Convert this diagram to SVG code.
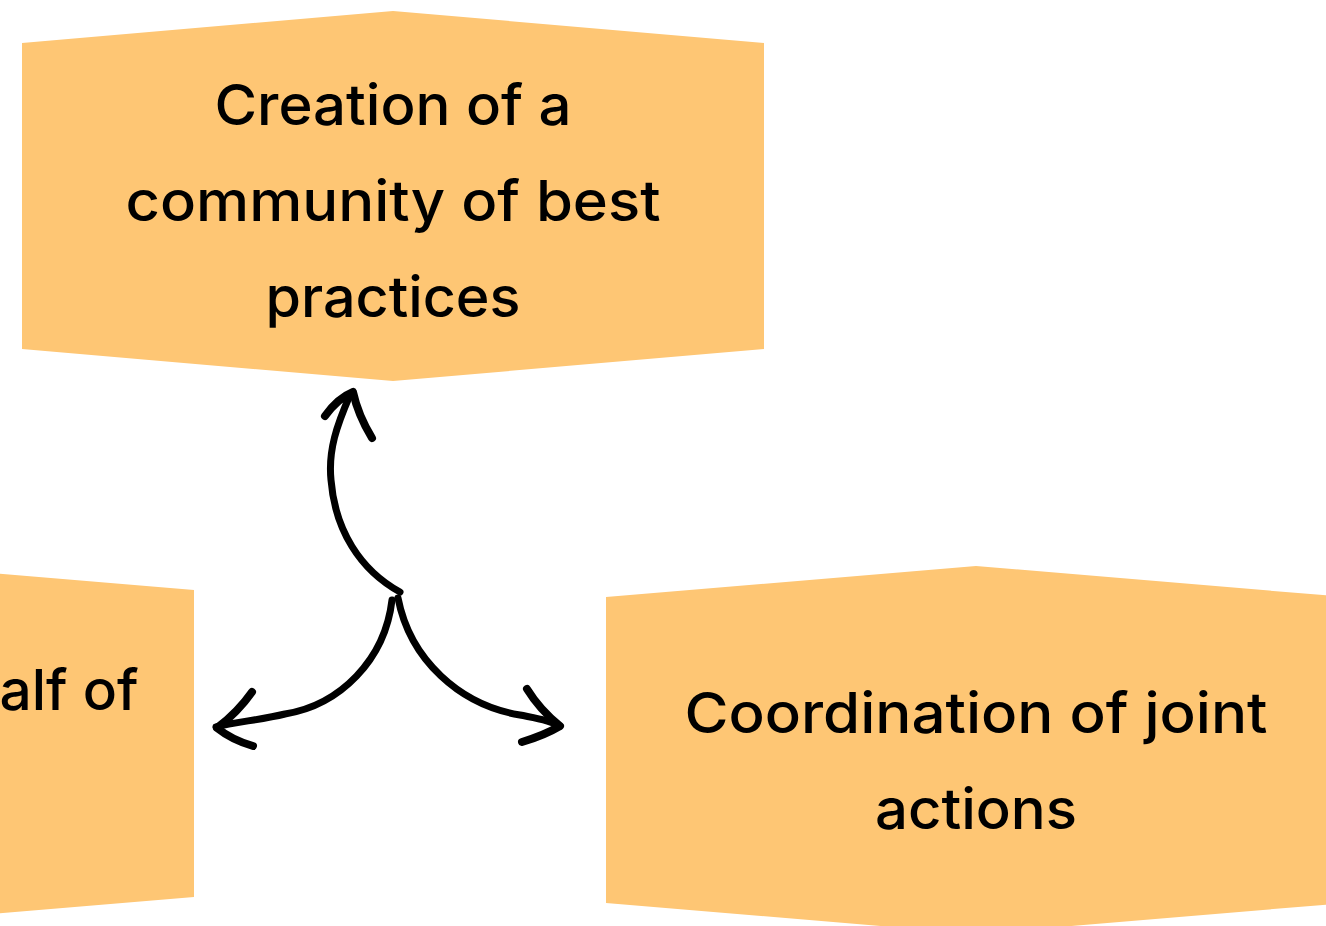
<svg xmlns="http://www.w3.org/2000/svg" width="1326" height="926" viewBox="0 0 1326 926">
<style>
.box{fill:#FEC674;}
.lbl{font-family:Inter,"Noto Sans","DejaVu Sans",sans-serif;font-size:56px;font-weight:500;fill:#000;text-anchor:middle;}
.arr{fill:none;stroke:#000;stroke-width:7;stroke-linecap:round;stroke-linejoin:round;}
.barb{fill:none;stroke:#000;stroke-width:8;stroke-linecap:round;stroke-linejoin:round;}
</style>
<rect width="1326" height="926" fill="#fff"/>
<g id="node-top">
<polygon class="box" points="22,43 393,11 764,43 764,349 393,381 22,349"/>
<text class="lbl" x="393" y="125" textLength="357" lengthAdjust="spacingAndGlyphs">Creation of a</text>
<text class="lbl" x="393" y="221" textLength="535" lengthAdjust="spacingAndGlyphs">community of best</text>
<text class="lbl" x="393" y="317" textLength="255" lengthAdjust="spacingAndGlyphs">practices</text>
</g>
<g id="node-left">
<polygon class="box" points="-546,590 -176,559 194,590 194,897 -176,928 -546,897"/>
<text class="lbl" x="69" y="710" textLength="139" lengthAdjust="spacingAndGlyphs">alf of</text>
</g>
<g id="node-right">
<polygon class="box" points="606,597 976,566 1346,597 1346,903 976,934 606,903"/>
<text class="lbl" x="976" y="733" textLength="583" lengthAdjust="spacingAndGlyphs">Coordination of joint</text>
<text class="lbl" x="976" y="829" textLength="202" lengthAdjust="spacingAndGlyphs">actions</text>
</g>
<g id="connectors">
<path class="arr" d="M400,592 C360,570 335,530 331,480 C328,450 337,425 350,395"/>
<path class="barb" d="M325,416 Q338,398 353,392 Q358,415 372,438"/>
<path class="arr" d="M392,600 C385,660 340,705 285,714 C260,720 235,722 216,727"/>
<path class="barb" d="M252,692 Q238,712 217,728 Q232,740 253,746"/>
<path class="arr" d="M398,598 C410,660 460,705 520,715 C535,718 550,720 560,726"/>
<path class="barb" d="M527,689 Q540,710 560,726 Q545,735 522,742"/>
</g>
</svg>
